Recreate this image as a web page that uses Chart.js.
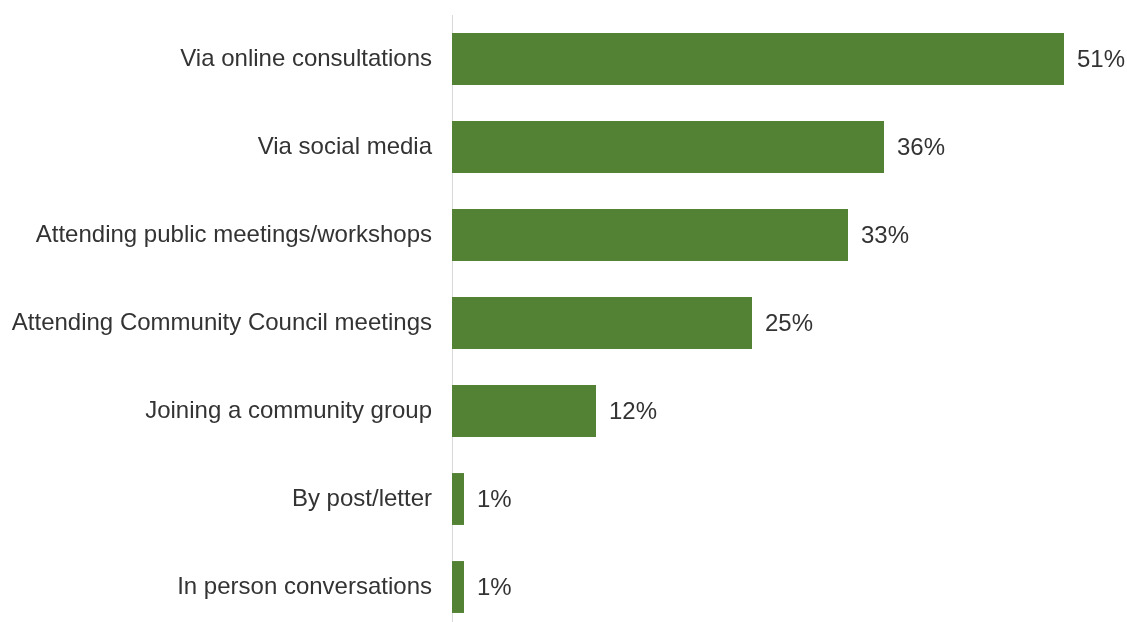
<!DOCTYPE html>
<html>
<head>
<meta charset="utf-8">
<script src="https://cdn.jsdelivr.net/npm/chart.js@4"></script>
<style>
  html, body { margin: 0; padding: 0; background: #fff; overflow: hidden; }
  #wrap { width: 1127px; height: 640px; position: relative; }
</style>
</head>
<body>
<div id="wrap"><canvas id="chart"></canvas></div>
<script>
// Kategorier och andelar (%)
const categories = [
    'Via online consultations',
    'Via social media',
    'Attending public meetings/workshops',
    'Attending Community Council meetings',
    'Joining a community group',
    'By post/letter',
    'In person conversations'
];
const shares = [51, 36, 33, 25, 12, 1, 1];

const barColor = '#548235';
const textColor = '#333333';
const fontFamily = '"Liberation Sans", Arial, sans-serif';

// Skriver ut värdet till höger om varje stapel
const valueLabels = {
    id: 'valueLabels',
    afterDatasetsDraw(chart) {
        const ctx = chart.ctx;
        const meta = chart.getDatasetMeta(0);
        ctx.save();
        ctx.font = '24px ' + fontFamily;
        ctx.fillStyle = textColor;
        ctx.textAlign = 'left';
        ctx.textBaseline = 'middle';
        meta.data.forEach((bar, i) => {
            ctx.fillText(shares[i] + '%', bar.x + 13, bar.y + 1);
        });
        ctx.restore();
    }
};

new Chart(document.getElementById('chart').getContext('2d'), {
    type: 'bar',
    data: {
        labels: categories,
        datasets: [{
            data: shares,
            backgroundColor: barColor,
            borderWidth: 0,
            barPercentage: 0.59,
            categoryPercentage: 1
        }]
    },
    options: {
        indexAxis: 'y',
        responsive: true,
        maintainAspectRatio: false,
        animation: false,
        layout: { padding: { top: 15, right: 3, bottom: 9, left: 0 } },
        plugins: {
            legend: { display: false },
            tooltip: { enabled: false }
        },
        scales: {
            x: {
                display: false,
                min: 0,
                max: 56
            },
            y: {
                // fast bredd för etiketterna och ingen extra luft över/under
                afterFit(scale) {
                    scale.width = 452;
                    scale.paddingTop = 0;
                    scale.paddingBottom = 0;
                },
                grid: { display: false, drawTicks: false },
                border: { display: true, color: '#d9d9d9', width: 1 },
                ticks: {
                    color: textColor,
                    padding: 20,
                    font: { size: 24, family: fontFamily }
                }
            }
        }
    },
    plugins: [valueLabels]
});
</script>
</body>
</html>
